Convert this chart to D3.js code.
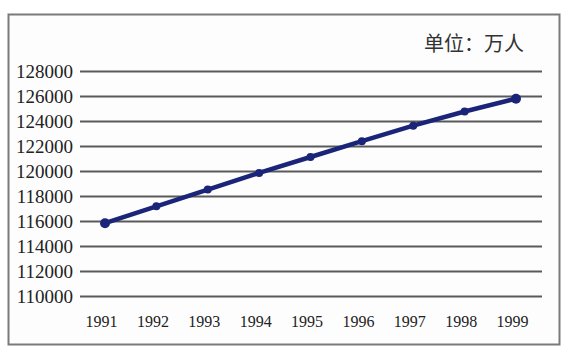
<!DOCTYPE html>
<html>
<head>
<meta charset="utf-8">
<script src="https://cdn.jsdelivr.net/npm/d3@7"></script>
<style>
  body { margin: 0; background: #fff; }
  .axis path { display: none; }
  .y.axis line { stroke: #5a5a5a; stroke-width: 2; }
  .axis text { font-family: "Times New Roman", Times, "Liberation Serif", "DejaVu Serif", serif !important; }
</style>
</head>
<body>
<div id="chart"></div>
<script>
// Data
var years = ["1991", "1992", "1993", "1994", "1995", "1996", "1997", "1998", "1999"];
var population = [115823, 117171, 118517, 119850, 121121, 122389, 123626, 124761, 125786];
var yTicks = [110000, 112000, 114000, 116000, 118000, 120000, 122000, 124000, 126000, 128000];
var unitLabel = "单位：万人";

var W = 568, H = 353;
var margin = { top: 71, right: 26, bottom: 57, left: 80 };
var width = W - margin.left - margin.right,
    height = H - margin.top - margin.bottom;

var svg = d3.select("#chart")
  .append("svg")
    .attr("width", W)
    .attr("height", H);

// outer frame
svg.append("rect")
  .attr("x", 8.5).attr("y", 14.5)
  .attr("width", 551).attr("height", 330)
  .attr("fill", "#fdfdfd")
  .attr("stroke", "#7a7a7a")
  .attr("stroke-width", 2);

var g = svg.append("g")
  .attr("transform", "translate(" + margin.left + "," + margin.top + ")");

// Scales
var xScale = d3.scalePoint().domain(years).range([25, 436]);
var yScale = d3.scaleLinear().domain([110000, 128000]).range([height, 0]);

// Y axis with gridlines
var yAxis = d3.axisLeft(yScale)
  .tickValues(yTicks)
  .tickSize(-width)
  .tickPadding(7)
  .tickFormat(d3.format("d"));

g.append("g")
  .attr("class", "y axis")
  .call(yAxis)
  .attr("font-family", null)
  .selectAll("text")
  .style("font-size", "19px")
  .style("fill", "#222");

// X axis labels
var xAxis = d3.axisBottom(xScale).tickSize(0).tickPadding(20);
g.append("g")
  .attr("class", "x axis")
  .attr("transform", "translate(0," + height + ")")
  .call(xAxis)
  .attr("font-family", null)
  .selectAll("text")
  .style("font-size", "16px")
  .style("fill", "#222")
  .attr("dx", "-4");

// Line
var line = d3.line()
  .x(function(d, i) { return xScale(years[i]); })
  .y(function(d) { return yScale(d); });

g.append("path")
  .datum(population)
  .attr("fill", "none")
  .attr("stroke", "#1a2478")
  .attr("stroke-width", 4.5)
  .attr("d", line);

g.selectAll(".dot")
  .data(population)
  .enter()
  .append("circle")
  .attr("class", "dot")
  .attr("cx", function(d, i) { return xScale(years[i]); })
  .attr("cy", function(d) { return yScale(d); })
  .attr("r", function(d, i) { return (i === 0 || i === years.length - 1) ? 5 : 4; })
  .attr("fill", "#1a2478");

// Unit label
svg.append("text")
  .attr("x", 524)
  .attr("y", 51)
  .attr("text-anchor", "end")
  .style("font-family", "'Noto Sans CJK SC', sans-serif")
  .style("font-size", "20px")
  .style("fill", "#333")
  .text(unitLabel);
</script>
</body>
</html>
